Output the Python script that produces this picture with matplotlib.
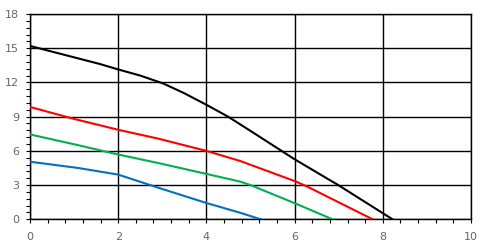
import numpy as np
import matplotlib.pyplot as plt
from matplotlib.ticker import MultipleLocator

# curve data (x, y pairs)
black_x = [0, 1, 1.59, 2, 2.5, 3.02, 3.5, 4.02, 4.5, 5, 5.74, 6.01, 6.99, 8.22]
black_y = [15.2, 14.2, 13.61, 13.14, 12.6, 11.91, 11.05, 10.0, 8.98, 7.75, 5.91, 5.24, 3.0, 0]

red_x = [0, 1, 2, 2.9, 4, 4.76, 6.01, 6.27, 7.77]
red_y = [9.85, 8.8, 7.85, 7.08, 6.0, 5.12, 3.34, 2.9, 0]

green_x = [0, 1.09, 2, 2.9, 4, 4.76, 5, 6.01, 6.86]
green_y = [7.44, 6.5, 5.68, 4.94, 3.98, 3.31, 3.0, 1.4, 0]

blue_x = [0, 1.09, 2, 2.9, 4, 4.76, 5.23]
blue_y = [5.05, 4.5, 3.92, 2.78, 1.43, 0.58, 0]

x_ticks = [0, 2, 4, 6, 8, 10]
y_ticks = [0, 3, 6, 9, 12, 15, 18]

fig = plt.figure(figsize=(4.87, 2.52), dpi=100)
ax = fig.add_axes([30 / 487, 1 - 219.3 / 252, 441 / 487, 205.3 / 252])

ax.plot(black_x, black_y, color="black", lw=1.5, zorder=3)
ax.plot(red_x, red_y, color="#ff0000", lw=1.5, zorder=3)
ax.plot(green_x, green_y, color="#00b050", lw=1.5, zorder=3)
ax.plot(blue_x, blue_y, color="#0070c0", lw=1.5, zorder=3)

ax.set_xlim(0, 10)
ax.set_ylim(0, 18)
ax.set_xticks(x_ticks)
ax.set_yticks(y_ticks)
ax.xaxis.set_minor_locator(MultipleLocator(0.4))
ax.yaxis.set_minor_locator(MultipleLocator(0.6))
ax.grid(True, which="major", color="black", lw=1.0)
ax.set_axisbelow(True)

for s in ax.spines.values():
    s.set_linewidth(1.0)
    s.set_color("black")

ax.tick_params(which="both", direction="out", length=3, width=0.8, color="black",
               labelsize=8, labelcolor="#666666")
ax.tick_params(axis="x", pad=6)
ax.tick_params(axis="y", pad=5)

fig.savefig("out.png", dpi=100)
